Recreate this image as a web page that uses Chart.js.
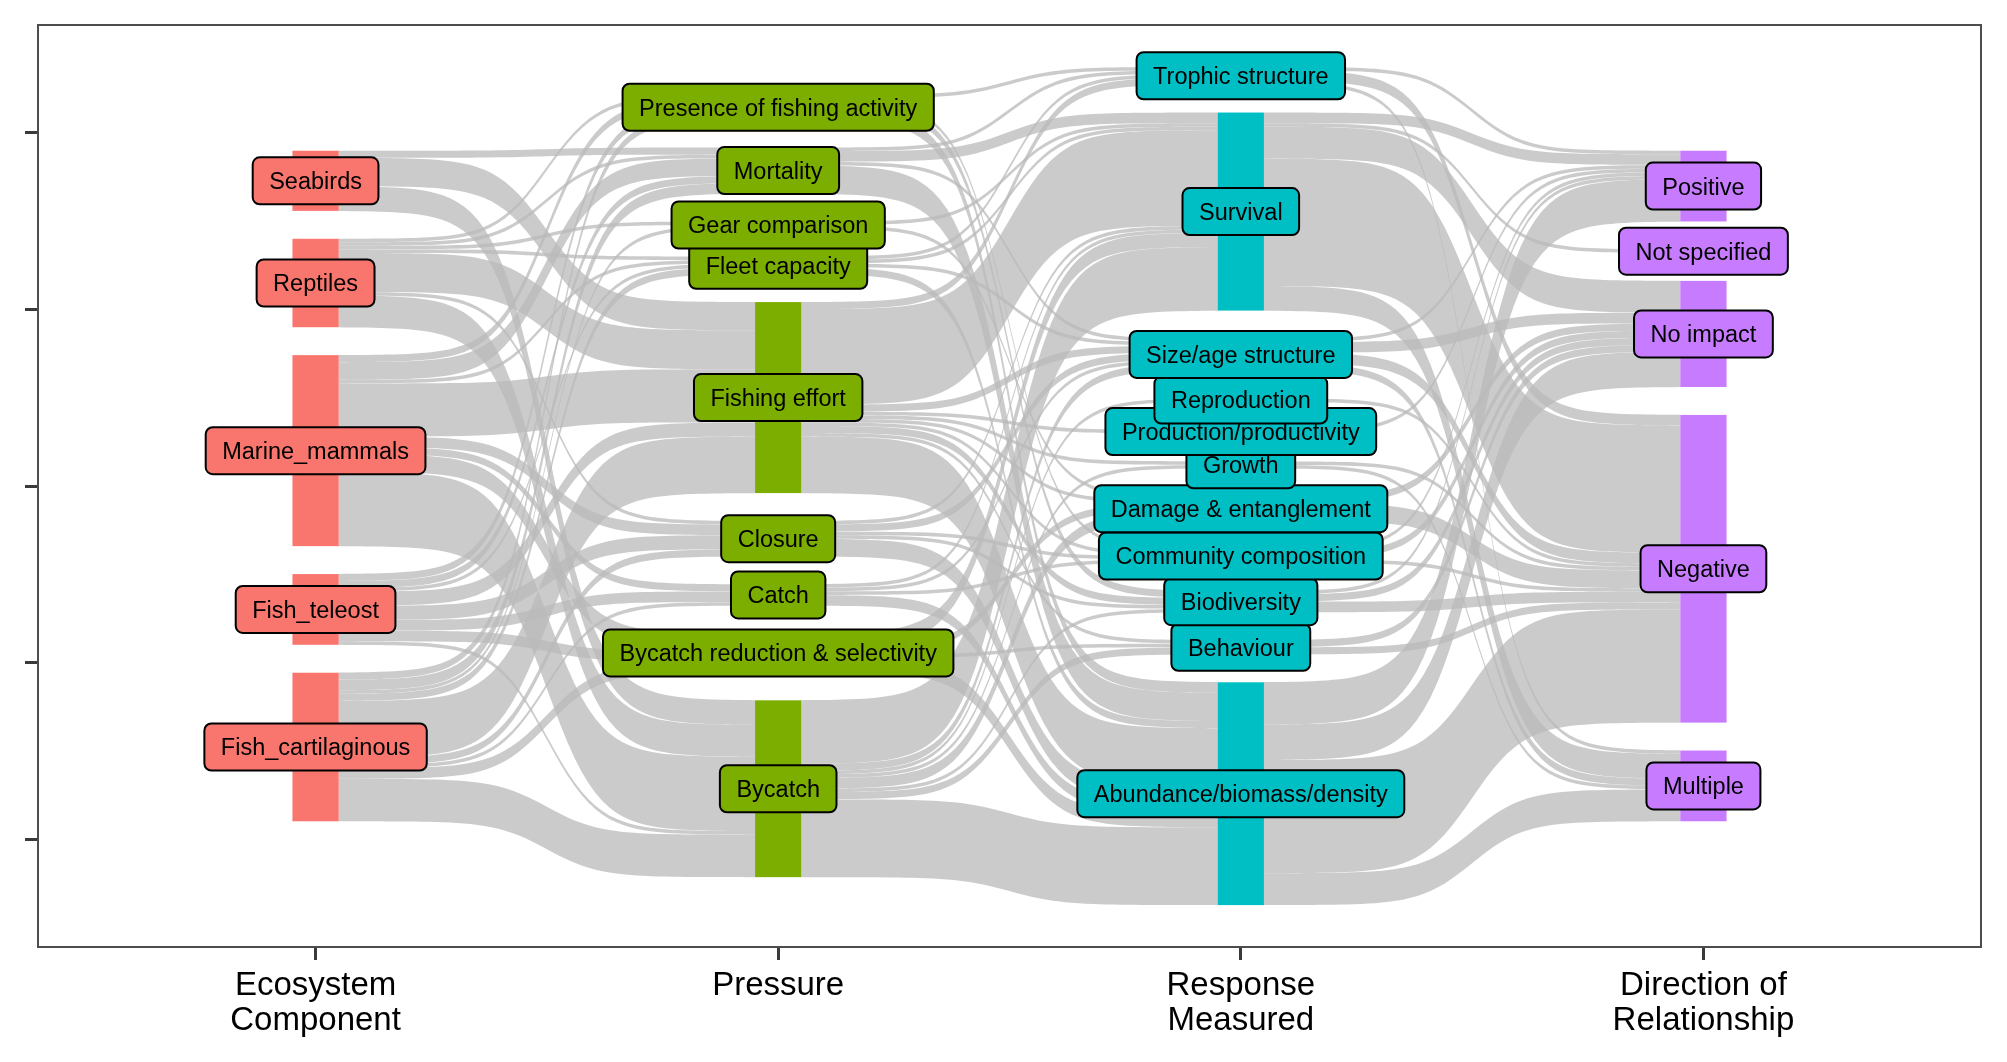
<!DOCTYPE html>
<html>
<head>
<meta charset="utf-8">
<script src="https://cdn.jsdelivr.net/npm/chart.js@4.4.1/dist/chart.umd.min.js"></script>
<style>
html, body { margin: 0; padding: 0; background: #fff; }
#wrap { width: 2007px; height: 1062px; position: relative; }
</style>
</head>
<body>
<div id="wrap"><canvas id="chart1"></canvas></div>
<script>
// node names per axis, listed bottom-up (first level sits at the bottom)
const ecosystem = ['Fish_cartilaginous', 'Fish_teleost', 'Marine_mammals', 'Reptiles', 'Seabirds'];
const pressure = ['Bycatch', 'Bycatch reduction & selectivity', 'Catch', 'Closure', 'Fishing effort',
    'Fleet capacity', 'Gear comparison', 'Mortality', 'Presence of fishing activity'];
const response = ['Abundance/biomass/density', 'Behaviour', 'Biodiversity', 'Community composition',
    'Damage & entanglement', 'Growth', 'Production/productivity', 'Reproduction',
    'Size/age structure', 'Survival', 'Trophic structure'];
const direction = ['Multiple', 'Negative', 'No impact', 'Not specified', 'Positive'];

const axisLabels = [['Ecosystem', 'Component'], ['Pressure'], ['Response', 'Measured'], ['Direction of', 'Relationship']];

// flow counts: rows = source node, columns = target node (same order as above)
const ecoToPressure = [
    [12, 3, 1, 2, 16, 2, 1, 3, 2],   // Fish_cartilaginous
    [1, 3, 3, 4, 4, 1, 0, 2, 2],     // Fish_teleost
    [21, 5, 2, 3, 15, 1, 0, 5, 2],   // Marine_mammals
    [9, 0, 0, 1, 11, 1, 1, 1, 1],    // Reptiles
    [7, 0, 0, 0, 8, 0, 0, 2, 0]      // Seabirds
];
const pressureToResponse = [
    [22, 2, 1, 0, 3, 1, 0, 1, 2, 18, 0],  // Bycatch
    [4, 1, 0, 0, 2, 0, 0, 0, 0, 4, 0],    // Bycatch reduction & selectivity
    [3, 0, 0, 1, 0, 0, 0, 0, 1, 1, 0],    // Catch
    [5, 0, 1, 1, 0, 0, 0, 0, 2, 1, 0],    // Closure
    [16, 1, 2, 1, 1, 1, 1, 0, 2, 27, 2],  // Fishing effort
    [2, 0, 0, 0, 0, 0, 0, 0, 1, 1, 1],    // Fleet capacity
    [0, 0, 0, 0, 1, 0, 0, 0, 0, 1, 0],    // Gear comparison
    [8, 0, 0, 0, 0, 0, 0, 0, 1, 3, 1],    // Mortality
    [3, 0, 2, 1, 0, 0, 0, 0, 0, 0, 1]     // Presence of fishing activity
];
const responseToDirection = [
    [9, 32, 10, 0, 12],  // Abundance/biomass/density
    [0, 2, 2, 0, 0],     // Behaviour
    [0, 3, 2, 0, 1],     // Biodiversity
    [0, 1, 2, 0, 1],     // Community composition
    [0, 5, 2, 0, 0],     // Damage & entanglement
    [1, 1, 0, 0, 0],     // Growth
    [0, 0, 0, 0, 1],     // Production/productivity
    [0, 1, 0, 0, 0],     // Reproduction
    [2, 3, 3, 0, 1],     // Size/age structure
    [7, 36, 9, 1, 3],    // Survival
    [1, 3, 0, 0, 1]      // Trophic structure
];

const columns = [ecosystem, pressure, response, direction];
const stages = [ecoToPressure, pressureToResponse, responseToDirection];
const nodeColors = ['#F8766D', '#7CAE00', '#00BFC4', '#C77CFF'];
const nodeWidth = 0.1;

const rowSums = m => m.map(r => r.reduce((a, b) => a + b, 0));
const colSums = m => m[0].map((_, j) => m.reduce((a, r) => a + r[j], 0));
const nodeSizes = [rowSums(ecoToPressure), rowSums(pressureToResponse), rowSums(responseToDirection), colSums(responseToDirection)];

// stack nodes of one axis, centred on 0, with gaps of 5% of the total
function layoutColumn(sizes) {
    const total = sizes.reduce((a, b) => a + b, 0);
    const gap = total * 0.05;
    let y = -(total + gap * (sizes.length - 1)) / 2;
    return sizes.map(s => {
        const n = { lo: y, hi: y + s };
        y += s + gap;
        return n;
    });
}

function roundRect(ctx, x, y, w, h, r) {
    ctx.beginPath();
    ctx.moveTo(x + r, y);
    ctx.lineTo(x + w - r, y);
    ctx.arcTo(x + w, y, x + w, y + r, r);
    ctx.lineTo(x + w, y + h - r);
    ctx.arcTo(x + w, y + h, x + w - r, y + h, r);
    ctx.lineTo(x + r, y + h);
    ctx.arcTo(x, y + h, x, y + h - r, r);
    ctx.lineTo(x, y + r);
    ctx.arcTo(x, y, x + r, y, r);
    ctx.closePath();
}

const sankeyPlugin = {
    id: 'sankey',
    beforeDraw(chart) {
        const ctx = chart.ctx;
        ctx.save();
        ctx.fillStyle = '#fff';
        ctx.fillRect(0, 0, chart.width, chart.height);
        ctx.restore();
    },
    afterDatasetsDraw(chart) {
        const ctx = chart.ctx;
        const xs = chart.scales.x, ys = chart.scales.y;
        const cols = nodeSizes.map(layoutColumn);

        // flows
        ctx.save();
        ctx.fillStyle = 'rgba(186,186,186,0.75)';
        const steps = 60;
        stages.forEach((m, s) => {
            const outOff = cols[s].map(n => n.lo);
            const inOff = cols[s + 1].map(n => n.lo);
            const xa = s + 1 + nodeWidth / 2, xb = s + 2 - nodeWidth / 2;
            m.forEach((row, i) => row.forEach((v, j) => {
                if (!v) return;
                const a0 = outOff[i], b0 = inOff[j];
                outOff[i] += v;
                inOff[j] += v;
                const pts = [];
                for (let k = 0; k <= steps; k++) {
                    const t = -8 + 16 * k / steps;
                    const f = 1 / (1 + Math.exp(-t));
                    pts.push([xa + (xb - xa) * k / steps, a0 + (b0 - a0) * f]);
                }
                ctx.beginPath();
                pts.forEach((p, k) => {
                    const px = xs.getPixelForValue(p[0]), py = ys.getPixelForValue(p[1] + v);
                    if (k === 0) ctx.moveTo(px, py); else ctx.lineTo(px, py);
                });
                for (let k = pts.length - 1; k >= 0; k--) {
                    ctx.lineTo(xs.getPixelForValue(pts[k][0]), ys.getPixelForValue(pts[k][1]));
                }
                ctx.closePath();
                ctx.fill();
            }));
        });

        // nodes
        cols.forEach((nodes, c) => {
            ctx.fillStyle = nodeColors[c];
            const l = xs.getPixelForValue(c + 1 - nodeWidth / 2), r = xs.getPixelForValue(c + 1 + nodeWidth / 2);
            nodes.forEach(n => {
                const t = ys.getPixelForValue(n.hi), b = ys.getPixelForValue(n.lo);
                ctx.fillRect(l, t, r - l, b - t);
            });
        });

        // labels
        const fs = 23.5;
        ctx.font = fs + 'px "Liberation Sans", Arial, sans-serif';
        ctx.textAlign = 'center';
        ctx.textBaseline = 'alphabetic';
        ctx.lineWidth = 2;
        cols.forEach((nodes, c) => {
            const cx = xs.getPixelForValue(c + 1);
            nodes.forEach((n, i) => {
                const name = columns[c][i];
                const cy = ys.getPixelForValue((n.lo + n.hi) / 2);
                const w = ctx.measureText(name).width + 33, h = 47;
                roundRect(ctx, cx - w / 2, cy - h / 2, w, h, 7);
                ctx.fillStyle = nodeColors[c];
                ctx.fill();
                ctx.strokeStyle = '#000';
                ctx.stroke();
                ctx.fillStyle = '#000';
                ctx.fillText(name, cx, cy + fs * 0.358);
            });
        });
        ctx.restore();
    },
    afterDraw(chart) {
        const a = chart.chartArea, ctx = chart.ctx;
        ctx.save();
        ctx.strokeStyle = '#4d4d4d';
        ctx.lineWidth = 2;
        ctx.strokeRect(a.left, a.top, a.right - a.left, a.bottom - a.top);
        ctx.restore();
    }
};

const tickGrid = {
    drawOnChartArea: false,
    drawTicks: true,
    tickLength: 13,
    tickWidth: 3,
    tickColor: '#3a3a3a'
};

new Chart(document.getElementById('chart1'), {
    type: 'scatter',
    data: { datasets: [] },
    options: {
        responsive: true,
        maintainAspectRatio: false,
        animation: false,
        devicePixelRatio: 1,
        layout: { padding: { left: 0, right: 26, top: 25, bottom: 0 } },
        plugins: { legend: { display: false }, tooltip: { enabled: false } },
        scales: {
            x: {
                type: 'linear',
                min: 0.4,
                max: 4.6,
                afterBuildTicks: scale => { scale.ticks = [1, 2, 3, 4].map(v => ({ value: v })); },
                afterFit: scale => { scale.height = 115; },
                grid: tickGrid,
                border: { display: false },
                ticks: {
                    autoSkip: false,
                    maxRotation: 0,
                    minRotation: 0,
                    padding: 8,
                    color: '#000',
                    font: { family: '"Liberation Sans", Arial, sans-serif', size: 33, lineHeight: 1.07 },
                    callback: v => axisLabels[v - 1]
                }
            },
            y: {
                type: 'linear',
                min: -130.35,
                max: 130.35,
                afterBuildTicks: scale => { scale.ticks = [-100, -50, 0, 50, 100].map(v => ({ value: v })); },
                afterFit: scale => { scale.width = 38; },
                grid: tickGrid,
                border: { display: false },
                ticks: { callback: () => '' }
            }
        }
    },
    plugins: [sankeyPlugin]
});
</script>
</body>
</html>
